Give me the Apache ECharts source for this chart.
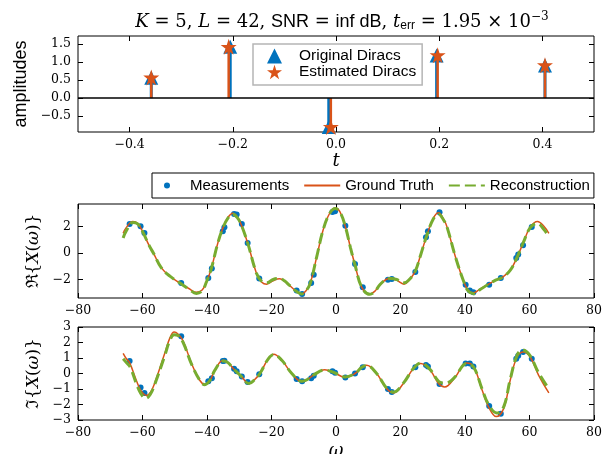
<!DOCTYPE html>
<html><head><meta charset="utf-8">
<script src="https://cdn.jsdelivr.net/npm/echarts@6/dist/echarts.min.js"></script>
<style>html,body{margin:0;padding:0;background:#fff}#c{width:611px;height:454px}</style>
</head><body><div id="c"></div>
<script>
// ---------- data ----------
const origT = [-0.358, -0.205, -0.014, 0.195, 0.405];
const origA = [0.56, 1.42, -0.80, 1.18, 0.90];
const estT = [-0.358, -0.208, -0.010, 0.197, 0.405];
const estA = [0.57, 1.42, -0.80, 1.19, 0.91];

const tTicks = [-0.4, -0.2, 0.0, 0.2, 0.4];
const ampTicks = [-0.5, 0.0, 0.5, 1.0, 1.5];
const omegaTicks = [-80, -60, -40, -20, 0, 20, 40, 60, 80];
const reTicks = [-2, 0, 2];
const imTicks = [-3, -2, -1, 0, 1, 2, 3];

const measOmega = [-64.0, -60.6, -59.4, -48.0, -39.6, -38.5, -35.1, -34.6, -31.6, -30.8, -29.2, -27.4, -23.8, -12.2, -10.5, -7.7, -6.9, -1.1, -0.3, 2.9, 5.9, 8.3, 16.1, 17.3, 24.6, 27.9, 28.5, 32.1, 40.2, 41.5, 42.6, 47.5, 51.1, 55.9, 56.5, 58.0, 60.7];
const measRe = [2.21, 2.03, 1.53, -2.26, -1.88, -1.17, 1.65, 1.96, 2.97, 2.92, 2.21, 0.77, -1.93, -2.84, -3.09, -2.26, -1.63, 3.12, 3.17, 2.08, -0.82, -2.59, -2.01, -1.96, -1.43, 1.20, 1.65, 3.09, -2.39, -2.84, -2.97, -2.39, -1.88, -0.37, -0.11, 0.59, 1.98];
const measIm = [0.80, -0.90, -1.25, 2.40, -0.50, -0.30, 0.80, 0.83, 0.30, 0.15, -0.20, -0.55, -0.05, -0.35, -0.50, -0.30, -0.15, 0.15, 0.05, -0.25, 0.00, 0.40, -1.00, -1.20, 0.40, 0.55, 0.45, -0.68, 0.65, 0.65, 0.45, -2.10, -2.60, 0.95, 1.15, 1.38, 0.95];

const truthRe = [[-66, 1.5], [-65, 1.95], [-63, 2.4], [-61.5, 2.25], [-59.9, 1.6], [-58, 0.6], [-56.5, -0.05], [-54.2, -1.1], [-51.5, -1.75], [-48.5, -2.25], [-45.5, -2.7], [-43.3, -2.97], [-41.5, -2.8], [-40.2, -2.2], [-38.7, -1.2], [-36.6, 0.8], [-35, 1.95], [-33.5, 2.7], [-32, 3.02], [-30.5, 2.7], [-29.3, 2.1], [-27.3, 0.7], [-24.7, -1.5], [-23, -2.2], [-21.5, -2.35], [-19.5, -2.1], [-17.5, -1.95], [-16, -2.1], [-14.4, -2.45], [-12.5, -2.85], [-10.7, -3.12], [-9.3, -2.85], [-8, -2.3], [-6, -0.3], [-4, 1.75], [-2, 3.0], [-0.2, 3.42], [1.2, 3.15], [2.8, 2.1], [4.5, 0.4], [5.9, -0.9], [8, -2.6], [10.5, -3.1], [12, -2.9], [13.6, -2.4], [15.5, -2.0], [17, -1.9], [18.8, -2.05], [21.1, -2.35], [22.5, -2.1], [24.5, -1.4], [26.3, -0.1], [28.1, 1.3], [30.2, 2.65], [31.8, 3.05], [33.5, 2.5], [34.4, 2.0], [37, -0.25], [39.6, -2.15], [41.1, -2.85], [42.7, -3.0], [44.5, -2.75], [47.3, -2.35], [49.5, -2.05], [51.5, -1.85], [54, -1.3], [56.1, -0.35], [58, 0.75], [60.3, 2.0], [62.5, 2.4], [64.4, 2.05], [66, 1.5]];
const reconRe = [[-66, 1.15], [-65, 1.7], [-63, 2.32], [-61.5, 2.22], [-59.9, 1.6], [-58, 0.6], [-56.5, -0.05], [-54.2, -1.1], [-51.5, -1.75], [-48.5, -2.25], [-45.5, -2.75], [-43.3, -3.05], [-41.5, -2.85], [-40.2, -2.2], [-38.7, -1.2], [-36.6, 0.8], [-35, 1.95], [-33.5, 2.65], [-32, 2.95], [-30.5, 2.65], [-29.3, 2.1], [-27.3, 0.7], [-24.7, -1.5], [-23, -2.15], [-21.5, -2.25], [-19.5, -2.0], [-17.5, -1.92], [-16, -2.1], [-14.4, -2.45], [-12.5, -2.85], [-10.7, -3.1], [-9.3, -2.85], [-8, -2.3], [-6, -0.3], [-4, 1.75], [-2, 3.0], [-0.2, 3.38], [1.2, 3.12], [2.8, 2.1], [4.5, 0.4], [5.9, -0.9], [8, -2.6], [10.5, -3.12], [12, -2.92], [13.6, -2.4], [15.5, -2.0], [17, -1.92], [18.8, -2.0], [21.1, -2.25], [22.5, -2.05], [24.5, -1.4], [26.3, -0.1], [28.1, 1.3], [30.2, 2.6], [31.8, 2.95], [33.5, 2.45], [34.4, 2.0], [37, -0.25], [39.6, -2.15], [41.1, -2.9], [42.7, -3.08], [44.5, -2.8], [47.3, -2.35], [49.5, -2.05], [51.5, -1.85], [54, -1.3], [56.1, -0.35], [58, 0.75], [60.3, 1.95], [62.5, 2.25], [64.4, 1.8], [66, 1.28]];
const truthIm = [[-66, 1.3], [-65, 0.95], [-64, 0.7], [-61.9, -0.45], [-60.5, -1.1], [-58.8, -1.42], [-57.5, -1.2], [-56.2, -0.6], [-53.1, 1.3], [-51.5, 2.3], [-50.2, 2.68], [-49, 2.55], [-47.4, 2.1], [-44.8, 0.65], [-42.2, -0.45], [-40.7, -0.7], [-39, -0.42], [-37.6, 0.2], [-35, 0.85], [-33.5, 0.72], [-31.9, 0.33], [-29.3, -0.2], [-27, -0.65], [-25.5, -0.45], [-23.6, 0.0], [-21, 0.95], [-19.3, 1.25], [-16.8, 0.85], [-13.7, 0.0], [-10.6, -0.52], [-9, -0.42], [-7, -0.1], [-3.5, 0.25], [-0.5, 0.05], [2.8, -0.25], [5.9, 0.0], [8, 0.4], [9.5, 0.53], [12.6, 0.0], [15.7, -0.97], [17.8, -1.25], [20.9, -0.64], [24, 0.32], [26.3, 0.65], [29.2, 0.21], [31.8, -0.64], [33.7, -0.87], [37, -0.22], [40.5, 0.68], [42.7, 0.43], [45.3, -1.07], [47.3, -2.15], [49.7, -2.78], [52, -2.25], [54, -0.45], [56.1, 1.05], [58.1, 1.38], [60.3, 1.03], [62.8, -0.1], [66, -1.25]];
const reconIm = [[-66, 0.95], [-65, 0.7], [-63.8, 0.4], [-62, -0.6], [-60.5, -1.3], [-59, -1.6], [-57.6, -1.35], [-56.2, -0.7], [-53.1, 1.15], [-51.5, 2.15], [-50.2, 2.5], [-49, 2.45], [-47.4, 2.0], [-44.8, 0.6], [-42.2, -0.45], [-40.7, -0.72], [-39, -0.42], [-37.6, 0.2], [-35, 0.8], [-33.5, 0.7], [-31.9, 0.33], [-29.3, -0.2], [-27, -0.65], [-25.5, -0.45], [-23.6, 0.0], [-21, 0.95], [-19.3, 1.22], [-16.8, 0.85], [-13.7, 0.0], [-10.6, -0.5], [-9, -0.4], [-7, -0.1], [-3.5, 0.22], [-0.5, 0.05], [2.8, -0.22], [5.9, 0.0], [8, 0.4], [9.5, 0.52], [12.6, 0.0], [15.7, -0.95], [17.8, -1.2], [20.9, -0.62], [24, 0.32], [26.3, 0.68], [29.2, 0.25], [31.8, -0.5], [33.7, -0.62], [35.5, -0.5], [37, -0.2], [40.5, 0.65], [42.7, 0.4], [45.3, -1.0], [47.3, -2.0], [49.9, -2.55], [52, -2.15], [54, -0.4], [56.1, 1.15], [57.8, 1.52], [60, 1.2], [62.8, 0.05], [66, -1.0]];

// ---------- style helpers ----------
const BLUE = '#0072BD', ORANGE = '#D95319', GREEN = '#77AC30';
const SERIF = 'DejaVu Serif', SANS = 'Liberation Sans';
const STAR = 'path://M50 0 L61.23 34.55 L97.55 34.55 L68.17 55.9 L79.39 90.45 L50 69.1 L20.61 90.45 L31.83 55.9 L2.45 34.55 L38.77 34.55 Z';
const fmt = d => v => (v < 0 ? '\u2212' : '') + Math.abs(v).toFixed(d);

function xAx(grid, min, max, ticks, d, pos, name, gap) {
  const labels = pos === 'bottom';
  return {
    type: 'value', gridIndex: grid, min, max, position: pos,
    axisLine: { show: false, onZero: false },
    splitLine: { show: false },
    axisTick: { show: true, inside: true, length: 5, customValues: ticks, lineStyle: { color: '#000', width: 1 } },
    axisLabel: { show: labels, customValues: ticks, formatter: fmt(d), margin: 6, color: '#000', fontFamily: SERIF, fontSize: 12.5 },
    name: labels ? name : '', nameLocation: 'middle', nameGap: gap,
    nameTextStyle: { fontFamily: SERIF, fontStyle: 'italic', fontSize: 18, color: '#000' }
  };
}
function yAx(grid, min, max, ticks, d, pos, name, gap, nameStyle) {
  const labels = pos === 'left';
  return {
    type: 'value', gridIndex: grid, min, max, position: pos,
    axisLine: { show: false, onZero: false },
    splitLine: { show: false },
    axisTick: { show: true, inside: true, length: 5, customValues: ticks, lineStyle: { color: '#000', width: 1 } },
    axisLabel: { show: labels, customValues: ticks, formatter: fmt(d), margin: 7, color: '#000', fontFamily: SERIF, fontSize: 12.5 },
    name: labels ? name : '', nameLocation: 'middle', nameGap: gap, nameRotate: 90,
    nameTextStyle: nameStyle
  };
}
function stem(name, T, A, color, width, z) {
  return {
    type: 'custom', name, xAxisIndex: 0, yAxisIndex: 0, z, silent: true,
    data: T.map((t, i) => [t, A[i]]),
    renderItem(params, api) {
      const p0 = api.coord([api.value(0), 0]);
      const p1 = api.coord([api.value(0), api.value(1)]);
      return { type: 'line', shape: { x1: p0[0], y1: p0[1], x2: p1[0], y2: p1[1] }, style: { stroke: color, lineWidth: width } };
    }
  };
}

const chart = echarts.init(document.getElementById('c'), null, { renderer: 'canvas' });
const gridBase = { left: 78, right: 17, show: true, borderColor: '#000', borderWidth: 1, backgroundColor: 'transparent', containLabel: false, outerBoundsMode: 'none' };
const nameRich = { fontFamily: SERIF, fontSize: 17, color: '#000', rich: { i: { fontFamily: SERIF, fontStyle: 'italic', fontSize: 17, color: '#000' } } };

chart.setOption({
  animation: false,
  backgroundColor: '#fff',
  title: {
    left: 337, top: 6, textAlign: 'center',
    text: '{i|K}{r| = 5, }{i|L}{r| = 42, }{s|SNR}{r| = }{s|inf dB}{r|, }{i|t}{sub|err}{r| = 1.95 \u00d7 10}{sup|\u22123}',
    textStyle: {
      fontWeight: 'normal',
      rich: {
        i: { fontFamily: SERIF, fontStyle: 'italic', fontWeight: 'normal', fontSize: 18, color: '#000' },
        r: { fontFamily: SERIF, fontWeight: 'normal', fontSize: 18, color: '#000' },
        s: { fontFamily: SANS, fontWeight: 'normal', fontSize: 18, color: '#000' },
        sub: { fontFamily: SANS, fontWeight: 'normal', fontSize: 12, color: '#000', padding: [8, 0, 0, 0] },
        sup: { fontFamily: SERIF, fontWeight: 'normal', fontSize: 12, color: '#000', padding: [0, 0, 10, 0] }
      }
    }
  },
  grid: [
    Object.assign({ top: 36, height: 96 }, gridBase),
    Object.assign({ top: 204, height: 94 }, gridBase),
    Object.assign({ top: 327, height: 93 }, gridBase)
  ],
  xAxis: [
    xAx(0, -0.5, 0.5, tTicks, 1, 'bottom', 't', 19),
    xAx(0, -0.5, 0.5, tTicks, 1, 'top'),
    xAx(1, -80, 80, omegaTicks, 0, 'bottom', '', 20),
    xAx(1, -80, 80, omegaTicks, 0, 'top'),
    xAx(2, -80, 80, omegaTicks, 0, 'bottom', '\u03c9', 22),
    xAx(2, -80, 80, omegaTicks, 0, 'top')
  ],
  yAxis: [
    yAx(0, -0.94, 1.72, ampTicks, 1, 'left', 'amplitudes', 48, { fontFamily: SANS, fontSize: 18, color: '#000' }),
    yAx(0, -0.94, 1.72, ampTicks, 1, 'right'),
    yAx(1, -3.4, 3.72, reTicks, 0, 'left', '\u211c{{i|X}({i|\u03c9})}', 36, nameRich),
    yAx(1, -3.4, 3.72, reTicks, 0, 'right'),
    yAx(2, -3, 3, imTicks, 0, 'left', '\u2111{{i|X}({i|\u03c9})}', 36, nameRich),
    yAx(2, -3, 3, imTicks, 0, 'right')
  ],
  legend: [
    {
      data: [{ name: 'Original Diracs', icon: 'triangle' }, { name: 'Estimated Diracs', icon: STAR }],
      orient: 'vertical', left: 253, top: 44, itemWidth: 15, itemHeight: 15, itemGap: 0,
      padding: [4, 6, 5, 14], borderColor: '#b5b5b5', borderWidth: 1.5, backgroundColor: '#fff',
      selectedMode: false,
      textStyle: { fontFamily: SANS, fontSize: 15.5, color: '#000', padding: [0, 0, 0, 12] }
    },
    {
      data: [
        { name: 'Measurements' },
        { name: 'Ground Truth', itemStyle: { opacity: 0 } },
        { name: 'Reconstruction', itemStyle: { opacity: 0 } }
      ],
      orient: 'horizontal', left: 152, top: 173, itemWidth: 36, itemHeight: 6, itemGap: 14,
      padding: [5, 4, 5, 12], borderColor: '#000', borderWidth: 1, backgroundColor: '#fff',
      selectedMode: false,
      textStyle: { fontFamily: SANS, fontSize: 15, color: '#000' }
    }
  ],
  series: [
    Object.assign(stem('origStem', origT, origA, BLUE, 3, 2), {
      markLine: { silent: true, symbol: 'none', label: { show: false }, data: [{ yAxis: 0 }], lineStyle: { color: '#000', width: 1.5, type: 'solid' } }
    }),
    {
      type: 'scatter', name: 'Original Diracs', xAxisIndex: 0, yAxisIndex: 0, z: 3,
      symbol: 'triangle', symbolSize: 14, itemStyle: { color: BLUE, opacity: 1 },
      data: origT.map((t, i) => [t, origA[i]])
    },
    stem('estStem', estT, estA, ORANGE, 2.5, 4),
    {
      type: 'scatter', name: 'Estimated Diracs', xAxisIndex: 0, yAxisIndex: 0, z: 5,
      symbol: STAR, symbolSize: 16, itemStyle: { color: ORANGE, opacity: 1 },
      data: estT.map((t, i) => [t, estA[i]])
    },
    {
      type: 'scatter', name: 'Measurements', xAxisIndex: 2, yAxisIndex: 2, z: 2,
      symbol: 'circle', symbolSize: 6, itemStyle: { color: BLUE, opacity: 1 },
      data: measOmega.map((w, i) => [w, measRe[i]])
    },
    {
      type: 'line', name: 'Ground Truth', xAxisIndex: 2, yAxisIndex: 2, z: 3,
      symbol: 'none', smooth: 0.4, lineStyle: { color: ORANGE, width: 1.5 }, itemStyle: { color: ORANGE },
      data: truthRe
    },
    {
      type: 'line', name: 'Reconstruction', xAxisIndex: 2, yAxisIndex: 2, z: 4,
      symbol: 'none', smooth: 0.4, lineStyle: { color: GREEN, width: 3, type: [11, 5] }, itemStyle: { color: GREEN },
      data: reconRe
    },
    {
      type: 'scatter', name: 'Measurements', xAxisIndex: 4, yAxisIndex: 4, z: 2,
      symbol: 'circle', symbolSize: 6, itemStyle: { color: BLUE, opacity: 1 },
      data: measOmega.map((w, i) => [w, measIm[i]])
    },
    {
      type: 'line', name: 'Ground Truth', xAxisIndex: 4, yAxisIndex: 4, z: 3,
      symbol: 'none', smooth: 0.4, lineStyle: { color: ORANGE, width: 1.5 }, itemStyle: { color: ORANGE },
      data: truthIm
    },
    {
      type: 'line', name: 'Reconstruction', xAxisIndex: 4, yAxisIndex: 4, z: 4,
      symbol: 'none', smooth: 0.4, lineStyle: { color: GREEN, width: 3, type: [11, 5] }, itemStyle: { color: GREEN },
      data: reconIm
    }
  ]
});
</script>
</body></html>
